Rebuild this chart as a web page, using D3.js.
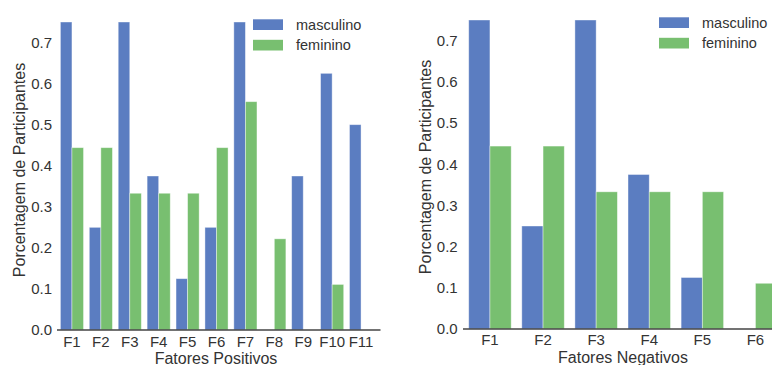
<!DOCTYPE html>
<html><head><meta charset="utf-8">
<script src="https://cdn.jsdelivr.net/npm/d3@7"></script>
<style>body{margin:0;background:#fff;} svg{display:block;font-family:"Liberation Sans",Arial,sans-serif;}</style>
</head><body>
<svg id="chart" width="772" height="365"></svg>
<script>
const series = ["masculino", "feminino"];
const colors = ["#5b7dc1", "#78bf70"];
const posCategories = ["F1","F2","F3","F4","F5","F6","F7","F8","F9","F10","F11"];
const posMasculino = [0.75,0.25,0.75,0.375,0.125,0.25,0.75,0,0.375,0.625,0.5];
const posFeminino = [0.444,0.444,0.333,0.333,0.333,0.444,0.556,0.222,0,0.111,0];
const negCategories = ["F1","F2","F3","F4","F5","F6"];
const negMasculino = [0.75,0.25,0.75,0.375,0.125,0];
const negFeminino = [0.444,0.444,0.333,0.333,0.333,0.111];
const yTicks = [0,0.1,0.2,0.3,0.4,0.5,0.6,0.7];

const svg = d3.select("#chart");
const txt = "#333";

function panel(cfg) {
  const g = svg.append("g");
  const x0 = d3.scaleBand().domain(cfg.cats).range([cfg.x0, cfg.x1]).paddingInner(0.2).paddingOuter(0.1);
  const x1 = d3.scaleBand().domain(series).range([0, x0.bandwidth()]).padding(0);
  const y = d3.scaleLinear().domain([0, 0.75]).range([cfg.yb, cfg.yt]);
  const vals = [cfg.m, cfg.f];
  series.forEach((s, si) => {
    g.selectAll(null).data(cfg.cats.map((c, i) => ({c, v: vals[si][i]}))).enter()
      .append("rect")
      .attr("x", d => x0(d.c) + x1(s))
      .attr("width", x1.bandwidth())
      .attr("y", d => y(d.v))
      .attr("height", d => y(0) - y(d.v))
      .attr("fill", colors[si])
      .attr("stroke", "#fff").attr("stroke-opacity", 0.5).attr("stroke-width", 0.8);
  });
  // bottom axis
  const xa = g.append("g").attr("transform", `translate(0,${cfg.yb})`)
    .call(d3.axisBottom(x0).tickSize(0).tickPadding(cfg.tickPad));
  xa.select(".domain").remove();
  xa.selectAll("text").attr("font-size", 15).attr("fill", txt).attr("font-family", "Liberation Sans, Arial, sans-serif");
  g.append("line").attr("x1", cfg.ax0).attr("x2", cfg.x1 + 5).attr("y1", cfg.yb).attr("y2", cfg.yb)
    .attr("stroke", "#444").attr("stroke-width", 1.3);
  // left axis labels
  const ya = g.append("g").attr("transform", `translate(${cfg.tickX},0)`)
    .call(d3.axisLeft(y).tickValues(yTicks).tickFormat(d3.format(".1f")).tickSize(0).tickPadding(0));
  ya.select(".domain").remove();
  ya.selectAll("text").attr("font-size", 15).attr("fill", txt).attr("font-family", "Liberation Sans, Arial, sans-serif");
  // labels
  g.append("text").attr("x", cfg.xlabX).attr("y", cfg.xlabY).attr("text-anchor", "middle")
    .attr("font-size", 16).attr("fill", txt).text(cfg.xlabel);
  g.append("text").attr("transform", `translate(${cfg.ylabX},${cfg.ylabY}) rotate(-90)`)
    .attr("text-anchor", "middle").attr("dominant-baseline", "central")
    .attr("font-size", 16).attr("fill", txt).text("Porcentagem de Participantes");
  // legend
  series.forEach((s, si) => {
    g.append("rect").attr("x", cfg.legX).attr("y", cfg.legY + si * 20.5).attr("width", 30).attr("height", 10.7)
      .attr("fill", colors[si]);
    g.append("text").attr("x", cfg.legX + 43).attr("y", cfg.legY + si * 20.5 + 5.5)
      .attr("dominant-baseline", "central").attr("font-size", 14.5).attr("fill", txt).text(s);
  });
}

panel({cats: posCategories, m: posMasculino, f: posFeminino, x0: 57.5, x1: 375.5, ax0: 57, yb: 330, yt: 22,
  tickPad: 6, tickX: 52, xlabel: "Fatores Positivos", xlabX: 216, xlabY: 363.5, ylabX: 19, ylabY: 170,
  legX: 253, legY: 19.3});
panel({cats: negCategories, m: negMasculino, f: negFeminino, x0: 463.4, x1: 782, ax0: 463, yb: 329, yt: 20,
  tickPad: 5, tickX: 457.7, xlabel: "Fatores Negativos", xlabX: 623, xlabY: 362.5, ylabX: 425, ylabY: 167,
  legX: 659, legY: 17.3});
</script>
</body></html>
